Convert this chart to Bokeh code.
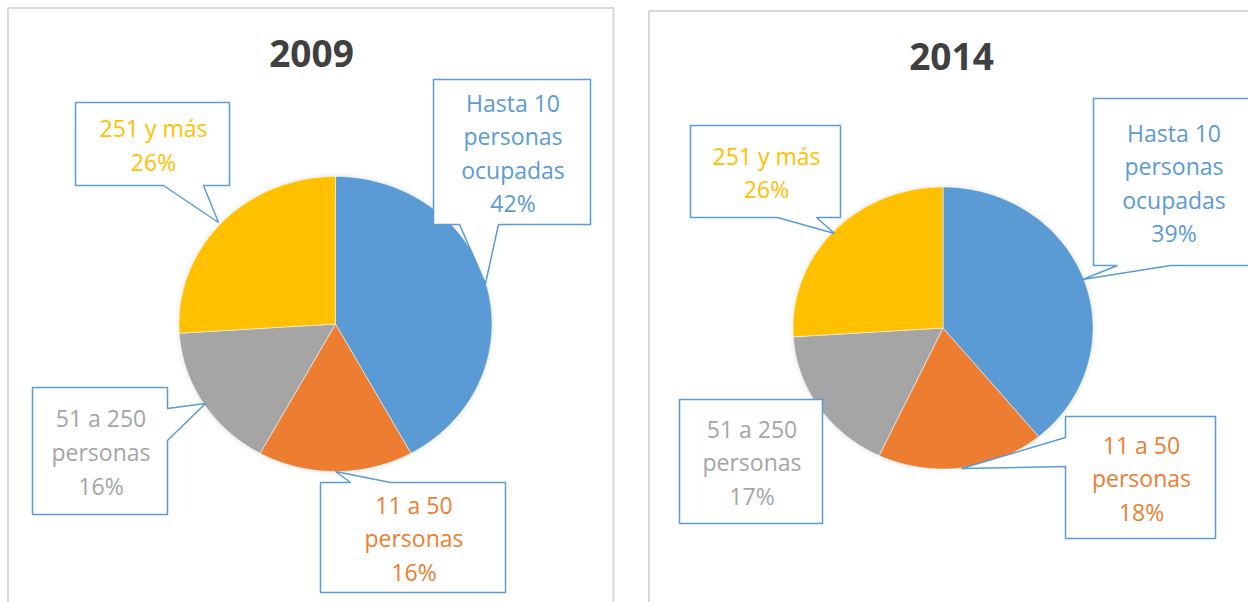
import numpy as np
from bokeh.plotting import figure
from bokeh.layouts import row
from bokeh.models import Range1d, ColumnDataSource
from bokeh.core.properties import value
from bokeh.embed import file_html
from bokeh.resources import INLINE

# ---------------- data ----------------
years = ["2009", "2014"]
categories = ["Hasta 10 personas ocupadas", "11 a 50 personas", "51 a 250 personas", "251 y más"]
label_names = ["Hasta 10\npersonas\nocupadas", "11 a 50\npersonas", "51 a 250\npersonas", "251 y más"]
share_2009 = [42, 16, 16, 26]
share_2014 = [39, 18, 17, 26]
colors = ["#5B9BD5", "#ED7D31", "#A5A5A5", "#FFC000"]

# ---------------- layout (pixel-like data units) ----------------
FONT = "Open Sans"
BOX_COLOR = "#5B9BD5"
PANEL_COLOR = "#D9D9D9"
H = 602

panels = [
    dict(year=years[0], shares=share_2009, xr=(0, 640), title_xy=(311, 53),
         center=(335, 323.5), rx=156.5, ry=147.5,
         border=[(7.5, H), (7.5, 7.5), (613, 7.5), (613, H)],
         callouts=[
             dict(box=(433, 590, 79, 224), side="bottom", base=(459, 498), tip=(485, 283)),
             dict(box=(320, 505, 482, 592), side="top", base=(350, 390), tip=(335, 471)),
             dict(box=(32, 167, 387, 514), side="right", base=(408, 440), tip=(205, 403)),
             dict(box=(75, 229, 102, 185), side="bottom", base=(163, 203), tip=(218, 222)),
         ]),
    dict(year=years[1], shares=share_2014, xr=(640, 1248), title_xy=(951, 56),
         center=(942.5, 327.5), rx=150, ry=141,
         border=[(648.5, H), (648.5, 10.5), (1248, 10.5)],
         callouts=[
             dict(box=(1093, 1252, 98, 265), side="bottom", base=(1117, 1170), tip=(1082, 279)),
             dict(box=(1065, 1215, 416, 538), side="left", base=(437, 466), tip=(961, 468)),
             dict(box=(679, 822, 399, 523), side=None, base=None, tip=None),
             dict(box=(690, 840, 125, 217), side="bottom", base=(777, 816), tip=(834, 233)),
         ]),
]


def callout_polygon(box, side, base, tip):
    x0, x1, y0, y1 = box
    pts = [(x0, y0)]
    if side == "top":
        pts += [(base[0], y0), tip, (base[1], y0)]
    pts += [(x1, y0)]
    if side == "right":
        pts += [(x1, base[0]), tip, (x1, base[1])]
    pts += [(x1, y1)]
    if side == "bottom":
        pts += [(base[1], y1), tip, (base[0], y1)]
    pts += [(x0, y1)]
    if side == "left":
        pts += [(x0, base[1]), tip, (x0, base[0])]
    return [p[0] for p in pts], [p[1] for p in pts]


figs = []
for i, pn in enumerate(panels):
    w = int(pn["xr"][1] - pn["xr"][0])
    p = figure(width=w, height=H, output_backend="svg", toolbar_location=None,
               x_range=Range1d(*pn["xr"]), y_range=Range1d(H, 0),
               x_axis_type=None, y_axis_type=None, min_border=0)
    p.grid.visible = False
    p.outline_line_color = None
    p.background_fill_color = "white"
    p.border_fill_color = "white"

    # panel border
    bx = [pt[0] for pt in pn["border"]]
    by = [pt[1] for pt in pn["border"]]
    p.line(bx, by, line_color=PANEL_COLOR, line_width=2)

    # pie slices (clockwise from 12 o'clock)
    shares = np.array(pn["shares"], dtype=float)
    frac = shares / shares.sum()
    ends = np.cumsum(frac) * 2 * np.pi
    starts = ends - frac * 2 * np.pi
    cx, cy = pn["center"]
    # soft halo around the pie
    tt_ = np.linspace(0, 2 * np.pi, 300)
    for grow, alpha in [(4, 0.08), (2, 0.12)]:
        p.patch(list(cx + (pn["rx"] + grow) * np.sin(tt_)), list(cy - (pn["ry"] + grow) * np.cos(tt_)),
                fill_color="#C8C8C8", fill_alpha=alpha, line_color=None)
    xs, ys = [], []
    for a0, a1 in zip(starts, ends):
        t = np.linspace(a0, a1, 150)
        xs.append([cx] + list(cx + pn["rx"] * np.sin(t)))
        ys.append([cy] + list(cy - pn["ry"] * np.cos(t)))
    src = ColumnDataSource(dict(xs=xs, ys=ys, color=colors, cat=categories, share=pn["shares"]))
    p.patches("xs", "ys", source=src, fill_color="color", line_color="white",
              line_width=1, line_alpha=0.5)

    # title
    p.text(x=[pn["title_xy"][0]], y=[pn["title_xy"][1]], text=[pn["year"]],
           text_align="center", text_baseline="middle", text_color="#404040",
           text_font=value(FONT), text_font_size=value("37px"), text_font_style="bold")

    # callouts
    cxs, cys, tx, ty, tt = [], [], [], [], []
    for k, co in enumerate(pn["callouts"]):
        px, py = callout_polygon(co["box"], co["side"], co["base"], co["tip"])
        cxs.append(px)
        cys.append(py)
        x0, x1, y0, y1 = co["box"]
        tx.append((x0 + x1) / 2 + 1)
        ty.append((y0 + y1) / 2 + 1)
        tt.append(f"{label_names[k]}\n{pn['shares'][k]}%")
    p.patches(cxs, cys, fill_color="white", line_color=BOX_COLOR, line_width=1.5)
    p.text(x=tx, y=ty, text=tt, text_align="center", text_baseline="middle",
           text_line_height=1.05, text_color=colors,
           text_font=value(FONT), text_font_size=value("23px"))
    figs.append(p)

layout = row(*figs)
open("out.html", "w").write(file_html(layout, INLINE, title="Empresas por tamaño"))
